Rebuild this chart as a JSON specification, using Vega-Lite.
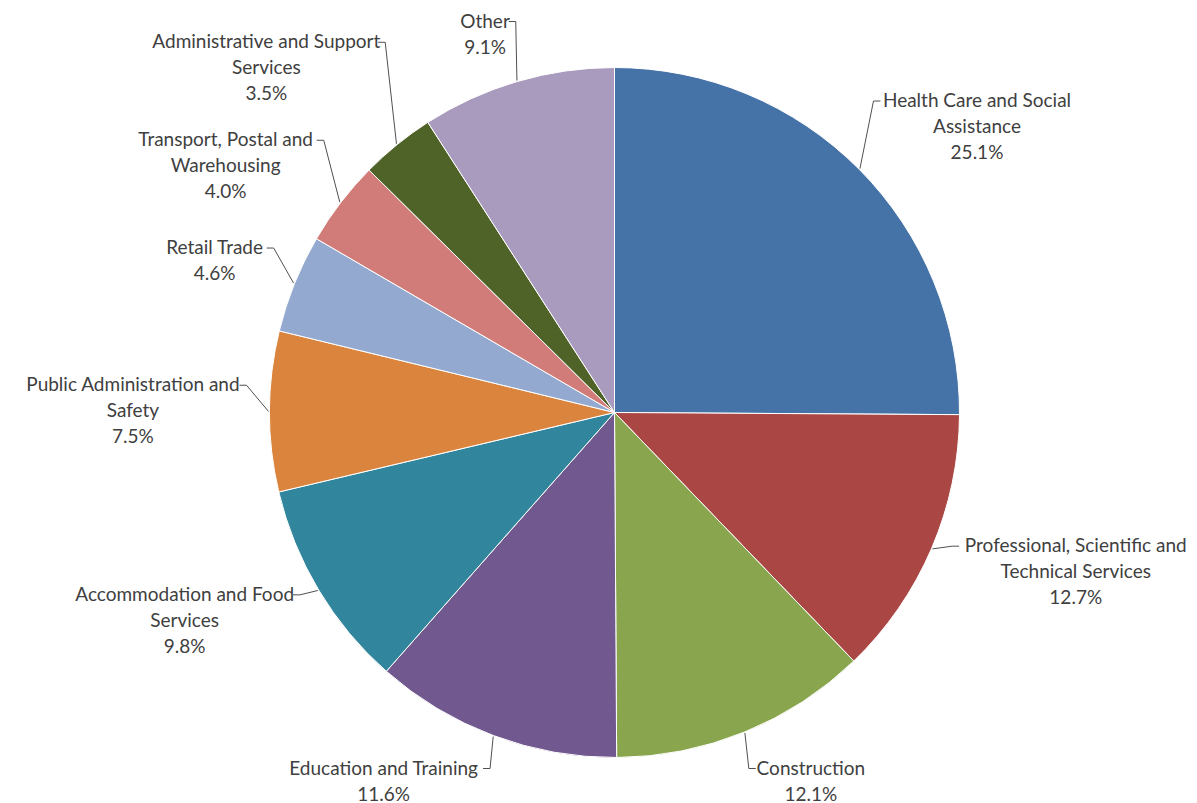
{
  "$schema": "https://vega.github.io/schema/vega-lite/v6.json",
  "width": 1165,
  "height": 781,
  "autosize": "none",
  "padding": {"left": 32, "top": 22, "right": 0, "bottom": 0},
  "background": "white",
  "config": {"view": {"stroke": null}},
  "data": {
    "values": [
      {"label": "Health Care and Social\nAssistance", "value": 25.1, "order": 1},
      {"label": "Professional, Scientific and\nTechnical Services", "value": 12.7, "order": 2},
      {"label": "Construction", "value": 12.1, "order": 3},
      {"label": "Education and Training", "value": 11.6, "order": 4},
      {"label": "Accommodation and Food\nServices", "value": 9.8, "order": 5},
      {"label": "Public Administration and\nSafety", "value": 7.5, "order": 6},
      {"label": "Retail Trade", "value": 4.6, "order": 7},
      {"label": "Transport, Postal and\nWarehousing", "value": 4.0, "order": 8},
      {"label": "Administrative and Support\nServices", "value": 3.5, "order": 9},
      {"label": "Other", "value": 9.1, "order": 10}
    ]
  },
  "transform": [
    {"window": [{"op": "sum", "field": "value", "as": "cum"}], "sort": [{"field": "order", "order": "ascending"}], "frame": [null, 0]},
    {"joinaggregate": [{"op": "sum", "field": "value", "as": "total"}]},
    {"calculate": "(datum.cum - datum.value / 2) / datum.total * 2 * PI", "as": "mid"},
    {"calculate": "datum.label + '\\n' + format(datum.value, '.1f') + '%'", "as": "txt"},
    {"calculate": "length(split(datum.label, '\\n')) + 1", "as": "nlines"},
    {"calculate": "split(datum.label, '\\n')[0]", "as": "first"},
    {"calculate": "length(replace(datum.first, regexp('[iltfrj ,.]', 'g'), ''))", "as": "wide"},
    {"calculate": "(datum.wide * 10.64 + (length(datum.first) - datum.wide) * 4.75) / 2", "as": "halfw"},
    {"calculate": "sin(datum.mid) >= 0 ? 1 : -1", "as": "sg"},
    {"calculate": "datum.sg < 0 ? 'L' : 'R'", "as": "side"},
    {"calculate": "datum.sg < 0 ? datum.mid : -datum.mid", "as": "skey"},
    {"calculate": "datum.nlines * 26", "as": "h"},
    {"calculate": "max(405 * cos(datum.mid), -369)", "as": "c0"},
    {"window": [{"op": "lag", "field": "h", "as": "hprev"}], "groupby": ["side"], "sort": [{"field": "skey", "order": "ascending"}]},
    {"calculate": "isValid(datum.hprev) ? (datum.hprev + datum.h) / 2 + 20 : 0", "as": "d"},
    {"window": [{"op": "sum", "field": "d", "as": "D"}], "groupby": ["side"], "sort": [{"field": "skey", "order": "ascending"}], "frame": [null, 0]},
    {"calculate": "datum.c0 - datum.D", "as": "v"},
    {"window": [{"op": "max", "field": "v", "as": "m"}], "groupby": ["side"], "sort": [{"field": "skey", "order": "ascending"}], "frame": [null, 0]},
    {"calculate": "min(datum.m + datum.D, 378)", "as": "cy"},
    {"calculate": "375 * sin(datum.mid)", "as": "ex"},
    {"calculate": "datum.ex + datum.sg * (datum.halfw + 3)", "as": "lx"},
    {"calculate": "datum.cy + (datum.nlines - 1) / 2 * 26", "as": "ey"},
    {"calculate": "datum.ex - datum.sg * 7", "as": "bx"},
    {"calculate": "346 * sin(datum.mid)", "as": "px"},
    {"calculate": "346 * cos(datum.mid)", "as": "py"}
  ],
  "layer": [
    {
      "mark": {"type": "arc", "outerRadius": 345, "stroke": "white", "strokeWidth": 1},
      "encoding": {
        "theta": {"field": "value", "type": "quantitative", "stack": true},
        "order": {"field": "order", "type": "quantitative"},
        "color": {
          "field": "label",
          "type": "nominal",
          "legend": null,
          "scale": {
            "domain": [
              "Health Care and Social\nAssistance",
              "Professional, Scientific and\nTechnical Services",
              "Construction",
              "Education and Training",
              "Accommodation and Food\nServices",
              "Public Administration and\nSafety",
              "Retail Trade",
              "Transport, Postal and\nWarehousing",
              "Administrative and Support\nServices",
              "Other"
            ],
            "range": ["#4572A7", "#AA4643", "#89A54E", "#71588F", "#31859C", "#DB843D", "#93A9CF", "#D17C79", "#4F6228", "#A99BBD"]
          }
        }
      }
    },
    {
      "mark": {"type": "rule", "color": "#505050", "strokeWidth": 1},
      "encoding": {
        "x": {"field": "px", "type": "quantitative", "scale": {"domain": [-582.5, 582.5], "nice": false, "zero": false}, "axis": null},
        "y": {"field": "py", "type": "quantitative", "scale": {"domain": [-390.5, 390.5], "nice": false, "zero": false}, "axis": null},
        "x2": {"field": "bx"},
        "y2": {"field": "ey"}
      }
    },
    {
      "mark": {"type": "rule", "color": "#505050", "strokeWidth": 1},
      "encoding": {
        "x": {"field": "bx", "type": "quantitative", "scale": {"domain": [-582.5, 582.5], "nice": false, "zero": false}, "axis": null},
        "y": {"field": "ey", "type": "quantitative", "scale": {"domain": [-390.5, 390.5], "nice": false, "zero": false}, "axis": null},
        "x2": {"field": "ex"}
      }
    },
    {
      "mark": {"type": "text", "font": "Lato", "fontSize": 19, "color": "#404040", "lineBreak": "\n", "lineHeight": 26, "align": "center", "baseline": "middle"},
      "encoding": {
        "x": {"field": "lx", "type": "quantitative", "scale": {"domain": [-582.5, 582.5], "nice": false, "zero": false}, "axis": null},
        "y": {"field": "ey", "type": "quantitative", "scale": {"domain": [-390.5, 390.5], "nice": false, "zero": false}, "axis": null},
        "text": {"field": "txt", "type": "nominal"}
      }
    }
  ]
}
